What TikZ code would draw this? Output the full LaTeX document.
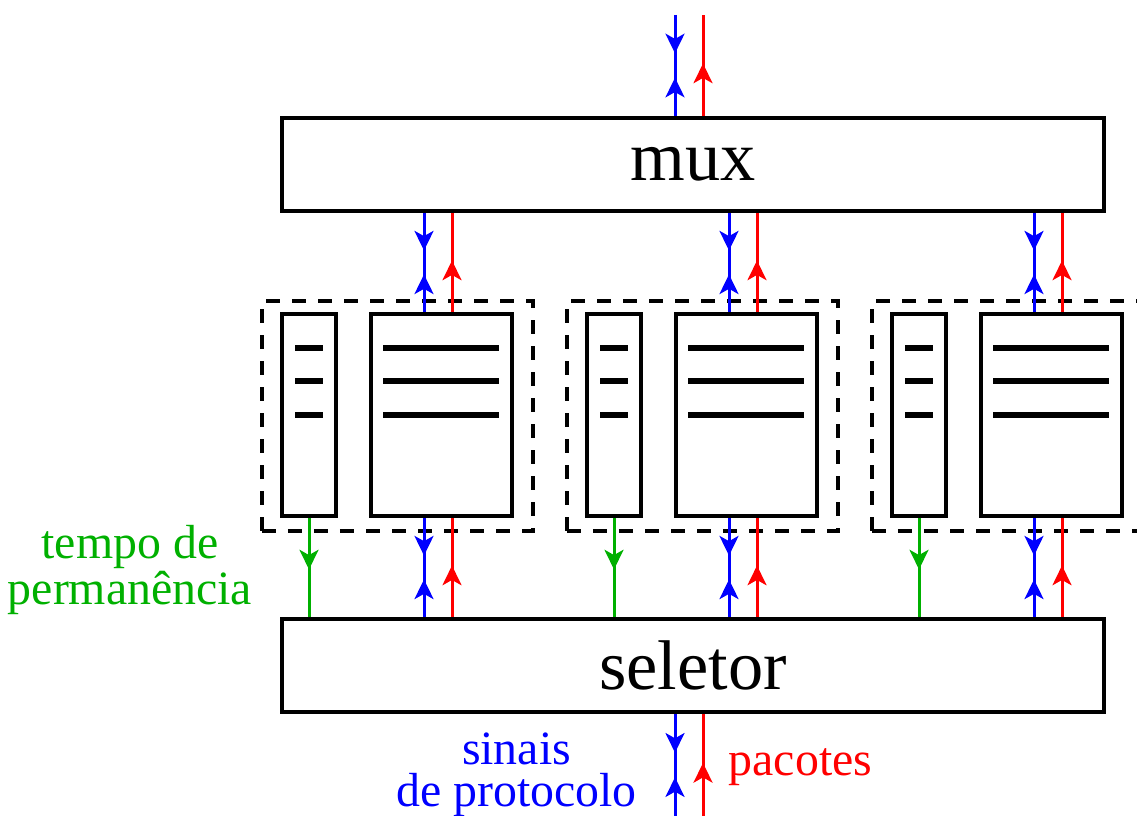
\documentclass[tikz,border=0pt]{standalone}
\usepackage{fontspec}
\setmainfont{Liberation Serif}
\usetikzlibrary{arrows.meta,decorations.markings,calc}
\definecolor{tempogreen}{RGB}{0,176,0}

\begin{document}
\begin{tikzpicture}[x=0.01cm, y=-0.01cm,
    box/.style={draw, line width=1.1pt, inner sep=0pt},
    bigbox/.style={box, minimum width=8.22cm, minimum height=0.93cm,
      font=\fontsize{20}{24}\selectfont},
    module/.style={draw, line width=1.1pt, dash pattern=on 4pt off 3.4pt,
      minimum width=2.71cm, minimum height=2.30cm, inner sep=0pt},
    queue/.style={box, minimum width=0.54cm, minimum height=2.02cm},
    buffer/.style={box, minimum width=1.41cm, minimum height=2.02cm},
    bar/.style={line width=1.7pt},
    sigtip/.tip={Stealth[length=5.6pt, width=5.4pt, inset=1.5pt]},
    sig/.style={blue, line width=0.85pt, postaction={decorate},
      decoration={markings,
        mark=at position 0.38 with {\arrow{sigtip}},
        mark=at position 0.62 with {\arrowreversed{sigtip}}}},
    pkt/.style={red, line width=0.85pt, postaction={decorate},
      decoration={markings, mark=at position 0.52 with {\arrow{sigtip}}}},
    tmp/.style={tempogreen, line width=0.85pt, postaction={decorate},
      decoration={markings, mark=at position 0.52 with {\arrow{sigtip}}}},
    label/.style={font=\fontsize{13.6}{11.8}\selectfont, align=center, inner sep=0pt}]
  \useasboundingbox (0,0) rectangle (1137,816);

  % 1. mux and seletor
  \node[bigbox] (mux) at (693,164.5) {mux};
  \node[bigbox] (sel) at (693,665.5) {seletor};

  % 2. the three modules (queue + buffer inside a dashed frame)
  \foreach \i in {1,2,3} {
    \pgfmathsetmacro{\dx}{305*(\i-1)}
    \begin{scope}[xshift=\dx*0.01cm]
      \node[module] (m\i) at (397.5,416) {};
      \node[queue] (q\i) at (309,415) {};
      \node[buffer] (b\i) at (441.5,415) {};
      \foreach \y in {348,381,415} {
        \draw[bar] (295,\y) -- (323,\y);
        \draw[bar] (383,\y) -- (499,\y);
      }
    \end{scope}

    % 3. connections to mux and seletor
    \coordinate (s\i) at ($(b\i.north)+(-17.5,0)$);
    \coordinate (p\i) at ($(b\i.north)+(10.5,0)$);
    \coordinate (sd\i) at ($(b\i.south)+(-17.5,0)$);
    \coordinate (pd\i) at ($(b\i.south)+(10.5,0)$);
    \draw[sig] (mux.south -| s\i) -- (s\i);
    \draw[pkt] (p\i) -- (mux.south -| p\i);
    \draw[sig] (sd\i) -- (sel.north -| sd\i);
    \draw[pkt] (sel.north -| pd\i) -- (pd\i);
    \draw[tmp] (q\i.south) -- (sel.north -| q\i.south);
  }

  % 4. outer signals
  \coordinate (top) at (693,15);
  \coordinate (bot) at (693,816);
  \draw[sig] ($(top)+(-18,0)$) -- ($(mux.north)+(-18,0)$);
  \draw[pkt] ($(mux.north)+(10,0)$) -- ($(top)+(10,0)$);
  \draw[sig] ($(sel.south)+(-18,0)$) -- ($(bot)+(-18,0)$);
  \draw[pkt] ($(bot)+(10,0)$) -- ($(sel.south)+(10,0)$);

  % 5. labels
  \node[label, tempogreen, font=\fontsize{13.6}{13.1}\selectfont] (tempo) at (130,570) {tempo de\\permanência};
  \node[label, blue] (sinais) at (516.5,775) {sinais\\de protocolo};
  \node[label, red, anchor=base west] (pacotes) at (728,775) {pacotes};
\end{tikzpicture}
\end{document}
